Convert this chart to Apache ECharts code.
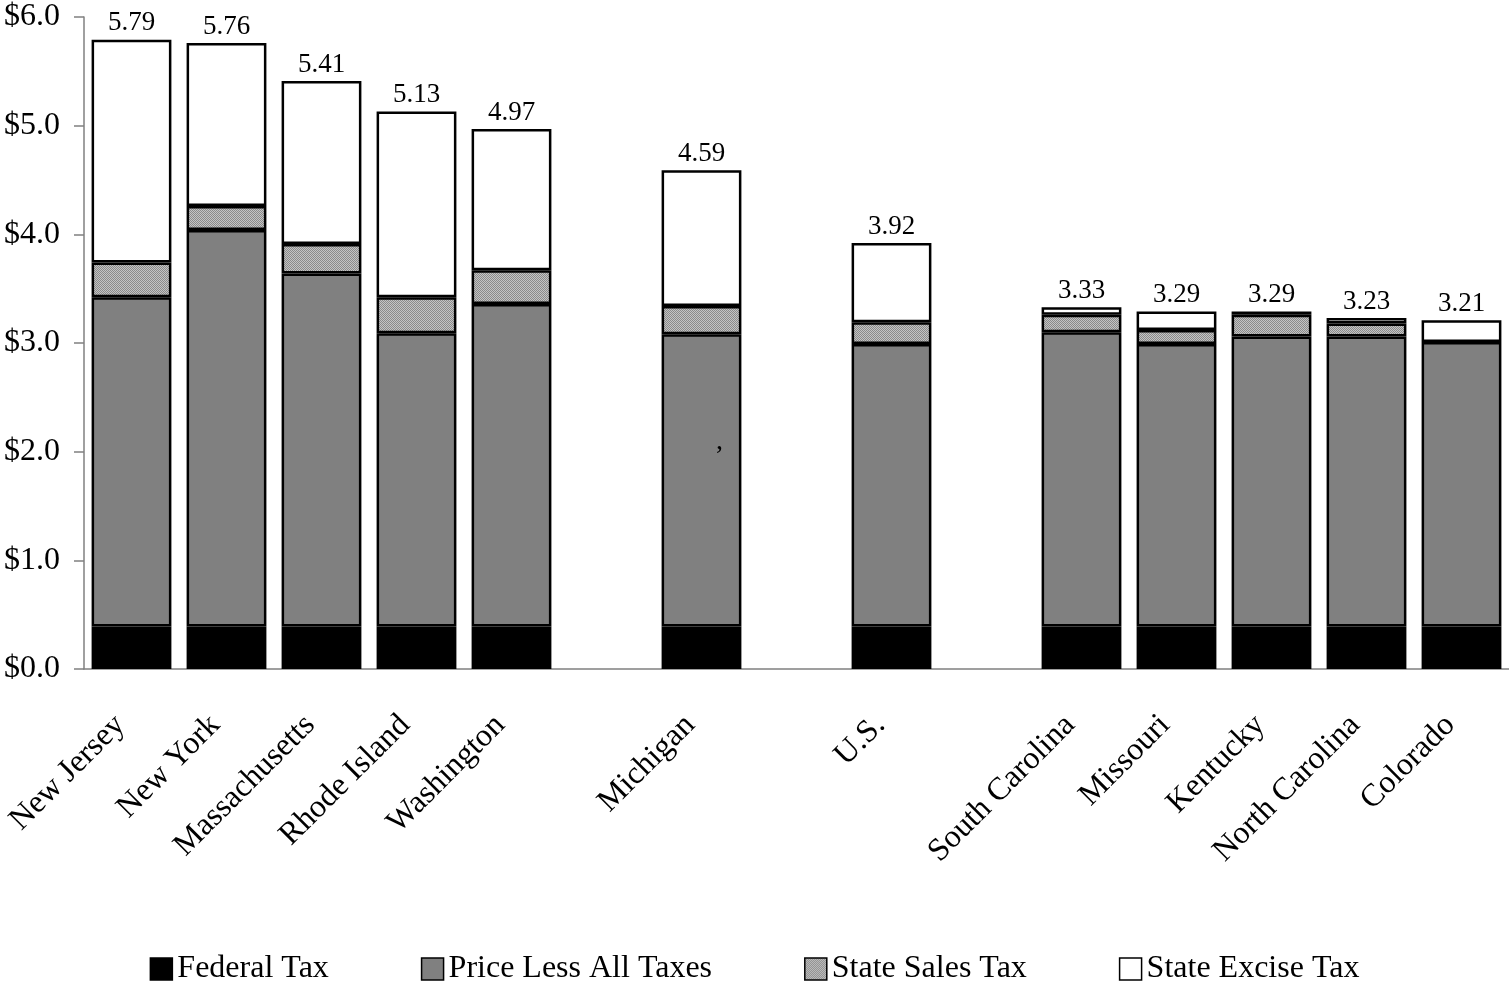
<!DOCTYPE html>
<html>
<head>
<meta charset="utf-8">
<script src="https://cdn.jsdelivr.net/npm/echarts@6/dist/echarts.min.js"></script>
<style>
  html, body { margin: 0; padding: 0; background: #fff; }
  #chart { width: 1509px; height: 984px; }
</style>
</head>
<body>
<div id="chart"></div>
<script>
// Cigarette price per pack, broken down by component (dollars).
// Empty strings are spacer slots between the groups of states.
const categories = ['New Jersey', 'New York', 'Massachusetts', 'Rhode Island', 'Washington', '',
  'Michigan', '', 'U.S.', '', 'South Carolina', 'Missouri', 'Kentucky', 'North Carolina', 'Colorado'];
const federalTax = [0.39, 0.39, 0.39, 0.39, 0.39, null, 0.39, null, 0.39, null, 0.39, 0.39, 0.39, 0.39, 0.39];
const priceLessTaxes = [3.03, 3.65, 3.25, 2.70, 2.97, null, 2.69, null, 2.60, null, 2.71, 2.60, 2.67, 2.67, 2.62];
const stateSalesTax = [0.32, 0.22, 0.27, 0.33, 0.31, null, 0.26, null, 0.20, null, 0.16, 0.13, 0.20, 0.12, null];
const stateExciseTax = [2.05, 1.50, 1.50, 1.71, 1.30, null, 1.25, null, 0.73, null, 0.07, 0.17, 0.03, 0.05, 0.20];
const yTicks = [0, 1, 2, 3, 4, 5, 6];

const FONT = '"Liberation Serif", "DejaVu Serif", serif';

// Fine checkered grey fill used for the sales-tax segment
function dottedPattern() {
  const c = document.createElement('canvas');
  c.width = 2; c.height = 2;
  const g = c.getContext('2d');
  g.fillStyle = '#c4c4c4';
  g.fillRect(0, 0, 2, 2);
  g.fillStyle = '#8a8a8a';
  g.fillRect(0, 0, 1, 1);
  g.fillRect(1, 1, 1, 1);
  return c;
}

function total(i) {
  return (federalTax[i] || 0) + (priceLessTaxes[i] || 0) + (stateSalesTax[i] || 0) + (stateExciseTax[i] || 0);
}

const border = { borderColor: '#000', borderWidth: 2.5 };

const chart = echarts.init(document.getElementById('chart'), null, { renderer: 'canvas' });

chart.setOption({
  animation: false,
  backgroundColor: '#fff',
  textStyle: { fontFamily: FONT },
  grid: { left: 84, right: 0, top: 17, bottom: 315, containLabel: false },
  legend: {
    top: 948,
    left: 'center',
    itemGap: 92,
    itemWidth: 22,
    itemHeight: 22,
    icon: 'rect',
    itemStyle: { borderColor: '#000', borderWidth: 1.5 },
    textStyle: { fontFamily: FONT, fontSize: 32, color: '#000' },
    data: ['Federal Tax', 'Price Less All Taxes', 'State Sales Tax', 'State Excise Tax']
  },
  xAxis: {
    type: 'category',
    data: categories,
    axisLine: { lineStyle: { color: '#808080', width: 1.5 } },
    axisTick: { show: false },
    axisLabel: {
      rotate: 45,
      interval: 0,
      margin: 40,
      padding: [0, 16, 0, 0],
      color: '#000',
      fontFamily: FONT,
      fontSize: 32
    }
  },
  yAxis: {
    type: 'value',
    min: yTicks[0],
    max: yTicks[yTicks.length - 1],
    interval: 1,
    axisLine: { show: true, lineStyle: { color: '#808080', width: 1.5 } },
    axisTick: { show: true, inside: false, length: 10, lineStyle: { color: '#808080', width: 1.5 } },
    splitLine: { show: false },
    axisLabel: {
      margin: 24,
      color: '#000',
      fontFamily: FONT,
      fontSize: 32,
      formatter: v => '$' + v.toFixed(1)
    }
  },
  series: [
    {
      name: 'Federal Tax', type: 'bar', stack: 'price', barCategoryGap: '16%',
      data: federalTax,
      itemStyle: Object.assign({ color: '#000' }, border)
    },
    {
      name: 'Price Less All Taxes', type: 'bar', stack: 'price',
      data: priceLessTaxes,
      itemStyle: Object.assign({ color: '#808080' }, border)
    },
    {
      name: 'State Sales Tax', type: 'bar', stack: 'price',
      data: stateSalesTax,
      itemStyle: Object.assign({ color: { image: dottedPattern(), repeat: 'repeat' } }, border)
    },
    {
      name: 'State Excise Tax', type: 'bar', stack: 'price',
      data: stateExciseTax,
      itemStyle: Object.assign({ color: '#fff' }, border),
      label: {
        show: true,
        position: 'top',
        distance: 3,
        color: '#000',
        fontFamily: FONT,
        fontSize: 27,
        formatter: p => total(p.dataIndex).toFixed(2)
      }
    }
  ],
  graphic: [
    {
      type: 'text',
      left: 716, top: 428,
      z: 100,
      style: { text: ',', font: '28px ' + FONT, fill: '#000' }
    }
  ]
});
</script>
</body>
</html>
